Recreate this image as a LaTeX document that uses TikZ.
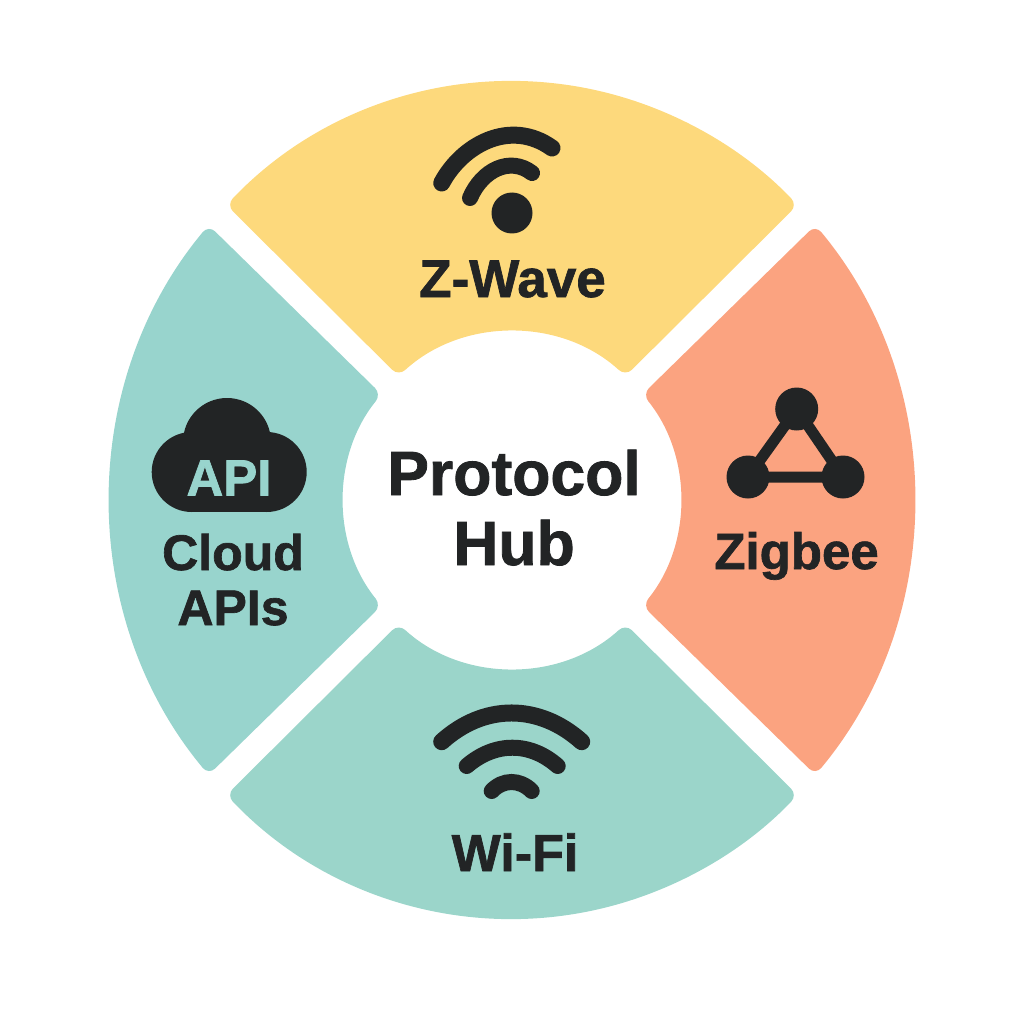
\documentclass[tikz,border=0pt]{standalone}
\usepackage{fontspec}
\setmainfont{Liberation Sans}[BoldFeatures={FakeBold=1.3}]
\definecolor{zwavecol}{HTML}{FDD97C}
\definecolor{cloudcol}{HTML}{98D4CD}
\definecolor{wificol}{HTML}{9BD5CA}
\definecolor{zigbeecol}{HTML}{FBA380}
\definecolor{inkcol}{HTML}{222425}
\tikzset{
  sector/.style={rounded corners=9pt},
  label/.style={text=inkcol,font=\bfseries\fontsize{51}{55}\selectfont,anchor=base,align=center},
  band/.style={draw=inkcol,line cap=round,line width=17pt},
  meshdot/.style={circle,fill=inkcol,minimum size=43pt}
}
\begin{document}
\begin{tikzpicture}[x=1pt,y=1pt]
\tikzstyle{every node}+=[inner sep=0pt]
\useasboundingbox (0,0) rectangle (1024,-1024);
\fill [zwavecol,sector] (226.5,-205) arc [start angle=135.25,end angle=44.75,x radius=402,y radius=419] -- (625.5,-376.1) arc [start angle=47.5,end angle=132.5,radius=168] -- cycle;
\fill [wificol,sector] (226.5,-795) arc [start angle=224.75,end angle=315.25,x radius=402,y radius=419] -- (625.5,-623.9) arc [start angle=-47.5,end angle=-132.5,radius=168] -- cycle;
\fill [cloudcol,sector] (208.6,-225.1) arc [start angle=139,end angle=221,x radius=402,y radius=419] -- (381.4,-605.7) arc [start angle=219,end angle=141,radius=168] -- cycle;
\fill [zigbeecol,sector] (815.4,-225.1) arc [start angle=41,end angle=-41,x radius=402,y radius=419] -- (642.6,-605.7) arc [start angle=-39,end angle=39,radius=168] -- cycle;
\node [label,font=\bfseries\fontsize{62.5}{70}\selectfont] (hub) at (514,-565) {Protocol\\Hub};
\node [label,font=\bfseries\fontsize{53}{55}\selectfont] (zwave) at (512.5,-297) {Z-Wave};
\node [label] (zigbee) at (796.5,-569) {Zigbee};
\node [label,font=\bfseries\fontsize{52}{55}\selectfont] (wifi) at (515,-871) {Wi-Fi};
\node [label,font=\bfseries\fontsize{50}{55}\selectfont] (cloud) at (233,-625) {Cloud\\APIs};
\fill [inkcol] (512,-213) circle (20.5);
\draw [band] (441.7,-183) .. controls (462,-145) and (510,-118) .. (552,-148);
\draw [band,line width=16pt] (470,-198) .. controls (482,-170) and (510,-156) .. (532,-173);
\draw [band] (441.7,-741.7) .. controls (484,-703.4) and (539,-703.4) .. (581.7,-741.7);
\draw [band,line width=16pt] (466.7,-766) .. controls (495,-741.6) and (530,-741.6) .. (557.7,-766);
\draw [band,line width=16pt] (491.7,-791) .. controls (503,-779) and (520,-779) .. (531.7,-791);
\node [meshdot] (meshtop) at (796.7,-409) {};
\node [meshdot] (meshleft) at (748,-477) {};
\node [meshdot] (meshright) at (843,-477) {};
\draw [inkcol,line width=11pt] (meshtop.center) -- (meshleft.center) -- (meshright.center) -- cycle;
\fill [inkcol] (191.7,-472) circle (40);
\fill [inkcol] (266.7,-472) circle (40);
\fill [inkcol] (227,-442) circle (44);
\fill [inkcol] (192,-512) rectangle (267,-472);
\node [label,text=cloudcol,anchor=center] (apitext) at (229,-478) {API};
\end{tikzpicture}
\end{document}
